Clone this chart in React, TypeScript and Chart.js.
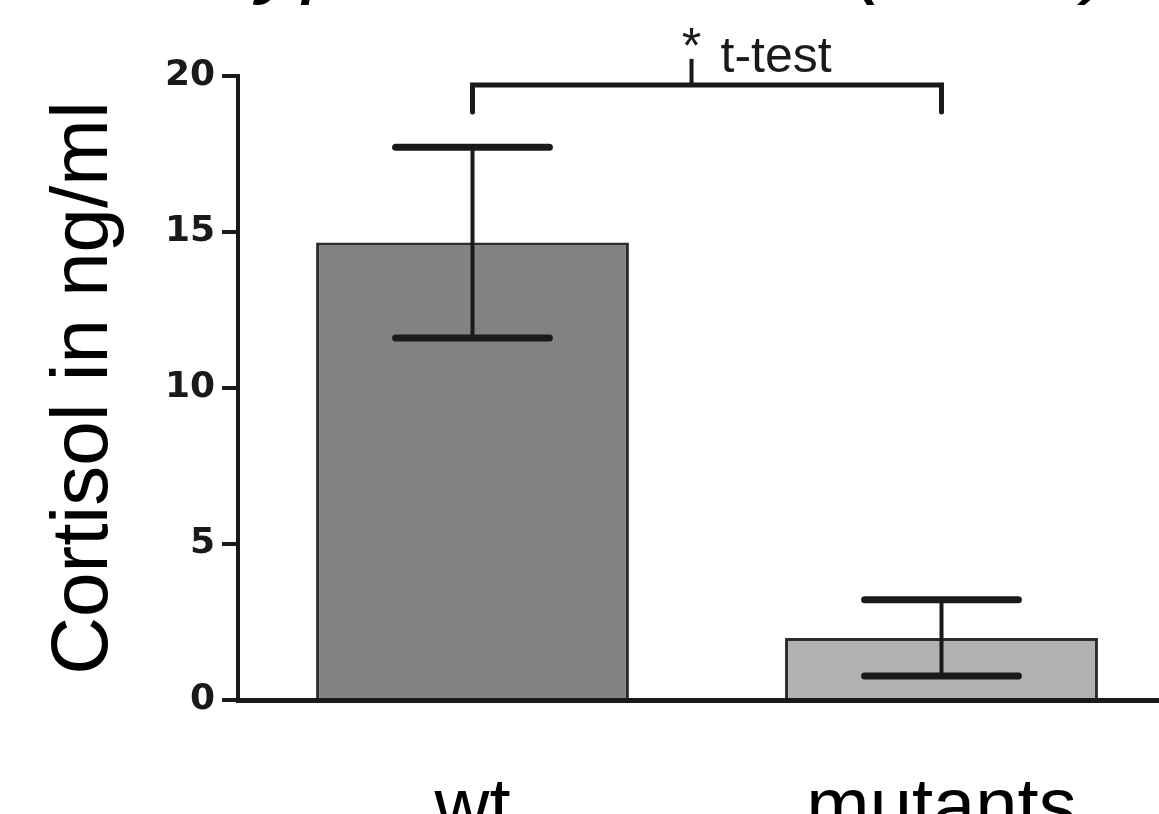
import React, { useEffect, useRef } from 'react';
import { Chart, registerables } from 'chart.js';

Chart.register(...registerables);

// ---- data ----
const categories = ['wt', 'mutants'];
const meanValues = [14.66, 1.99];
const semValues = [3.06, 1.22];
const yTickValues = [0, 5, 10, 15, 20];
const barColors = ['#818281', '#b2b2b2'];
const yAxisTitle = 'Cortisol in ng/ml';
const headingText = 'Hypocortisolism (n=10)';
const significanceMark = '*';
const significanceLabel = 't-test';
// bracket: from category index to category index, at these y values
const bracketFrom = 0;
const bracketTo = 1;
const bracketMid = 0.467;
const bracketLevel = 19.71;
const bracketDrop = 18.85;
const bracketTickTop = 20.55;

const INK = '#1a1a1a';

const overlayPlugin = {
  id: 'overlay',
  afterDatasetsDraw(chart: any) {
    const { ctx } = chart;
    const y = chart.scales.y;
    const meta = chart.getDatasetMeta(0);
    ctx.save();
    ctx.strokeStyle = INK;
    meta.data.forEach((el: any, i: number) => {
      const px = el.x;
      const half = el.width * 0.257 - 3.5;
      const top = y.getPixelForValue(meanValues[i] + semValues[i]);
      const bot = y.getPixelForValue(meanValues[i] - semValues[i]);
      ctx.lineCap = 'butt';
      ctx.lineWidth = 4;
      ctx.beginPath();
      ctx.moveTo(px, top);
      ctx.lineTo(px, bot);
      ctx.stroke();
      ctx.lineCap = 'round';
      ctx.lineWidth = 7;
      [top, bot].forEach((py) => {
        ctx.beginPath();
        ctx.moveTo(px - half, py);
        ctx.lineTo(px + half, py);
        ctx.stroke();
      });
    });
    ctx.restore();
  },
  afterDraw(chart: any) {
    const { ctx } = chart;
    const x = chart.scales.x;
    const y = chart.scales.y;
    const x0 = x.getPixelForValue(bracketFrom);
    const x1 = x.getPixelForValue(bracketTo);
    const xm = x.getPixelForValue(bracketMid);
    const yl = y.getPixelForValue(bracketLevel);
    const yd = y.getPixelForValue(bracketDrop);
    const yt = y.getPixelForValue(bracketTickTop);
    ctx.save();
    ctx.strokeStyle = INK;
    ctx.fillStyle = INK;
    ctx.lineWidth = 5;
    ctx.lineCap = 'round';
    ctx.lineJoin = 'miter';
    ctx.beginPath();
    ctx.moveTo(x0, yd);
    ctx.lineTo(x0, yl);
    ctx.lineTo(x1, yl);
    ctx.lineTo(x1, yd);
    ctx.stroke();
    ctx.lineWidth = 4;
    ctx.lineCap = 'butt';
    ctx.beginPath();
    ctx.moveTo(xm, yl);
    ctx.lineTo(xm, yt);
    ctx.stroke();

    ctx.font = '50px "Liberation Sans", Arial, sans-serif';
    ctx.textBaseline = 'alphabetic';
    ctx.textAlign = 'center';
    ctx.fillText(significanceMark, xm, yt + 4);
    ctx.textAlign = 'left';
    ctx.fillText(significanceLabel, xm + 29, yl - 13);

    // heading, mostly cut off at the top of the picture
    ctx.font = 'italic 90px "Liberation Sans", Arial, sans-serif';
    ctx.fillStyle = '#000';
    ctx.textBaseline = 'alphabetic';
    ctx.fillText(headingText, 193, -14);
    ctx.restore();
  },
};

export default function App() {
  const ref = useRef<HTMLCanvasElement | null>(null);

  useEffect(() => {
    if (!ref.current) return;
    const chart = new Chart(ref.current, {
      type: 'bar',
      data: {
        labels: categories,
        datasets: [
          {
            data: meanValues,
            backgroundColor: barColors,
            borderColor: '#2b2b2b',
            borderWidth: 3,
            borderSkipped: 'start',
            barPercentage: 0.667,
            categoryPercentage: 1,
          },
        ],
      },
      options: {
        animation: false,
        responsive: false,
        devicePixelRatio: 1,
        layout: { padding: { left: 37, top: 76, right: 4, bottom: 0 } },
        plugins: {
          legend: { display: false },
          tooltip: { enabled: false },
          title: { display: false },
        },
        scales: {
          x: {
            type: 'category',
            offset: true,
            z: 1,
            grid: { display: false },
            border: { display: true, width: 5, color: INK },
            ticks: {
              font: { family: '"Liberation Sans", Arial, sans-serif', size: 76 },
              color: '#000',
              padding: 56,
              maxRotation: 0,
              autoSkip: false,
            },
            afterFit: (s: any) => {
              s.height = 200;
            },
          },
          y: {
            min: 0,
            max: 20,
            afterBuildTicks: (s: any) => {
              s.ticks = yTickValues.map((v) => ({ value: v }));
            },
            grid: {
              drawOnChartArea: false,
              drawTicks: true,
              tickLength: 16,
              tickWidth: 4,
              tickColor: INK,
              lineWidth: 4,
            },
            border: { display: true, width: 4, color: INK },
            ticks: {
              font: { family: '"DejaVu Sans", sans-serif', weight: 'bold', size: 36 },
              color: INK,
              padding: 7,
            },
            title: {
              display: true,
              text: yAxisTitle,
              font: { family: '"Liberation Sans", Arial, sans-serif', size: 80 },
              color: '#000',
              padding: 0,
            },
            afterFit: (s: any) => {
              s.width = 201;
            },
          },
        },
      },
      plugins: [overlayPlugin],
    } as any);
    return () => chart.destroy();
  }, []);

  return (
    <div
      style={{
        position: 'fixed',
        left: 0,
        top: 0,
        width: 1159,
        height: 814,
        overflow: 'hidden',
        background: '#fff',
      }}
    >
      <canvas ref={ref} width={1180} height={900} style={{ display: 'block' }} />
    </div>
  );
}
